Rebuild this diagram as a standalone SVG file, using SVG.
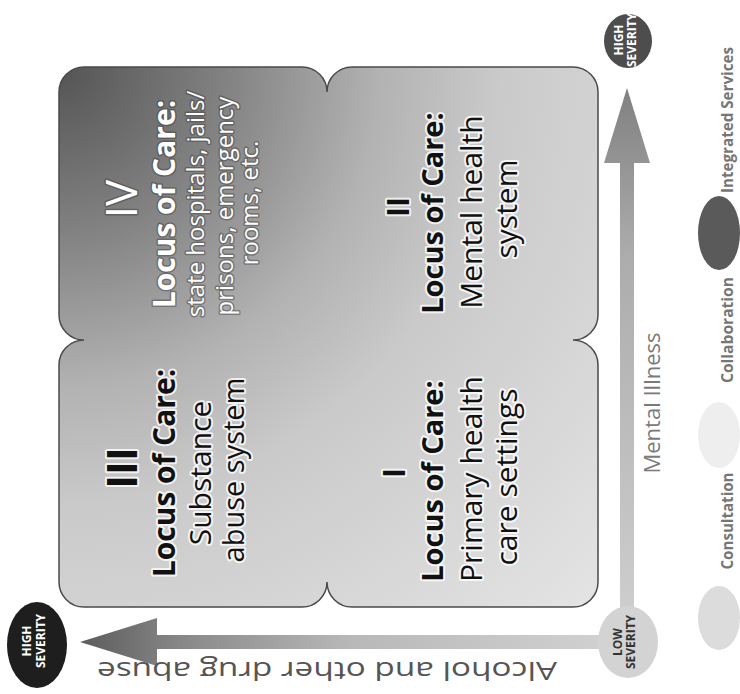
<svg xmlns="http://www.w3.org/2000/svg" width="740" height="694" viewBox="0 0 740 694">
  <defs>
    <radialGradient id="quadFill" gradientUnits="userSpaceOnUse" cx="59" cy="67" r="760" fx="59" fy="67">
      <stop offset="0" stop-color="#545454"/>
      <stop offset="0.22" stop-color="#828282"/>
      <stop offset="0.42" stop-color="#b2b2b2"/>
      <stop offset="0.58" stop-color="#cacaca"/>
      <stop offset="1" stop-color="#e4e4e4"/>
    </radialGradient>
    <linearGradient id="hArrow" gradientUnits="userSpaceOnUse" x1="80" y1="0" x2="620" y2="0">
      <stop offset="0" stop-color="#5c5c5c"/>
      <stop offset="0.2" stop-color="#8a8a8a"/>
      <stop offset="0.5" stop-color="#b8b8b8"/>
      <stop offset="1" stop-color="#d2d2d2"/>
    </linearGradient>
    <linearGradient id="vArrow" gradientUnits="userSpaceOnUse" x1="0" y1="88" x2="0" y2="640">
      <stop offset="0" stop-color="#808080"/>
      <stop offset="0.3" stop-color="#acacac"/>
      <stop offset="1" stop-color="#d0d0d0"/>
    </linearGradient>
  </defs>
  <style>
    text { font-family: "Open Sans", "Noto Sans", "Liberation Sans", sans-serif; }
    .lt { fill: #ffffff; stroke: #3a3a3a; stroke-width: 3; stroke-opacity: 0.45; paint-order: stroke; stroke-linejoin: round; text-anchor: middle; }
    .dk { fill: #111111; stroke: #ffffff; stroke-width: 4; stroke-opacity: 0.8; paint-order: stroke; stroke-linejoin: round; text-anchor: middle; }
    .b { font-weight: bold; }
    .sev { font-weight: bold; text-anchor: middle; font-size: 12px; }
    .leg { font-weight: bold; fill: #767676; font-size: 16px; text-anchor: middle; }
  </style>

  <rect width="740" height="694" fill="#ffffff"/>

  <!-- quadrant block -->
  <g id="quadrants">
    <path d="M84,67 H302 A25,25 0 0 1 327,92 A25,25 0 0 1 352,67 H573 A25,25 0 0 1 598,92 V315 A25,25 0 0 1 573,340 A25,25 0 0 1 598,365 V582 A25,25 0 0 1 573,607 H352 A25,25 0 0 1 327,582 A25,25 0 0 1 302,607 H84 A25,25 0 0 1 59,582 V365 A25,25 0 0 1 84,340 A25,25 0 0 1 59,315 V92 A25,25 0 0 1 84,67 Z" fill="url(#quadFill)" stroke="#4a4a4a" stroke-width="1.5"/>
  </g>

  <g id="quadrant-IV">
    <text class="lt" font-size="44" transform="translate(137,199) rotate(-90)">IV</text>
    <text class="lt b" font-size="30" transform="translate(175,204) rotate(-90)">Locus of Care:</text>
    <text class="lt" font-size="24" transform="translate(204,204) rotate(-90)">state hospitals, jails/</text>
    <text class="lt" font-size="24" transform="translate(233,206) rotate(-90)">prisons, emergency</text>
    <text class="lt" font-size="24" transform="translate(258,203) rotate(-90)">rooms, etc.</text>
  </g>

  <g id="quadrant-III">
    <text class="dk b" font-size="42" transform="translate(137,468) rotate(-90)">III</text>
    <text class="dk b" font-size="30" transform="translate(175,473) rotate(-90)">Locus of Care:</text>
    <text class="dk" font-size="30" transform="translate(211,473) rotate(-90)">Substance</text>
    <text class="dk" font-size="29" transform="translate(244,470) rotate(-90)">abuse system</text>
  </g>

  <g id="quadrant-II">
    <text class="dk b" font-size="30" transform="translate(409,207) rotate(-90)">II</text>
    <text class="dk b" font-size="29" transform="translate(443,213) rotate(-90)">Locus of Care:</text>
    <text class="dk" font-size="30" transform="translate(482,212) rotate(-90)">Mental health</text>
    <text class="dk" font-size="30" transform="translate(517,209) rotate(-90)">system</text>
  </g>

  <g id="quadrant-I">
    <text class="dk b" font-size="30" transform="translate(405,473) rotate(-90)">I</text>
    <text class="dk b" font-size="29" transform="translate(443,481) rotate(-90)">Locus of Care:</text>
    <text class="dk" font-size="30" transform="translate(482,479) rotate(-90)">Primary health</text>
    <text class="dk" font-size="30" transform="translate(517,477) rotate(-90)">care settings</text>
  </g>

  <!-- axes (connectors) -->
  <g id="connectors">
    <path d="M80,642 L157,618 L157,635 L612,635 L612,649 L157,649 L157,666 Z" fill="url(#hArrow)"/>
    <path d="M627,88 L650,163 L634,163 L634,615 L620,615 L620,163 L604,163 Z" fill="url(#vArrow)"/>
  </g>

  <g id="axis-labels">
    <text font-size="26" fill="#555555" text-anchor="middle" textLength="460" lengthAdjust="spacingAndGlyphs" transform="translate(327,662) rotate(180)">Alcohol and other drug abuse</text>
    <text font-size="22" fill="#7a7a7a" text-anchor="middle" transform="translate(660,403) rotate(-90)">Mental Illness</text>
  </g>

  <g id="low-severity">
    <ellipse cx="628" cy="642" rx="30" ry="36" fill="#d3d3d3"/>
    <text class="sev" fill="#333333" transform="translate(622,642) rotate(-90)">LOW</text>
    <text class="sev" fill="#333333" transform="translate(635,642) rotate(-90)">SEVERITY</text>
  </g>

  <g id="high-severity-mi">
    <ellipse cx="628" cy="41" rx="24" ry="27" fill="#4d4d4d"/>
    <text class="sev" fill="#ffffff" font-size="11" transform="translate(623,40) rotate(-90)">HIGH</text>
    <text class="sev" fill="#ffffff" font-size="11" transform="translate(636,40) rotate(-90)">SEVERITY</text>
  </g>

  <g id="high-severity-aod">
    <ellipse cx="37" cy="645" rx="30" ry="43" fill="#1e1e1e"/>
    <text class="sev" fill="#ffffff" font-size="13" transform="translate(31,641) rotate(-90)">HIGH</text>
    <text class="sev" fill="#ffffff" font-size="13" transform="translate(45,641) rotate(-90)">SEVERITY</text>
  </g>

  <!-- legend -->
  <g id="legend-consultation">
    <ellipse cx="719" cy="618" rx="21" ry="32" fill="#dcdcdc"/>
    <text class="leg" textLength="97" lengthAdjust="spacingAndGlyphs" transform="translate(733,521) rotate(-90)">Consultation</text>
  </g>
  <g id="legend-collaboration">
    <ellipse cx="719" cy="435" rx="21" ry="33" fill="#eeeeee"/>
    <text class="leg" textLength="106" lengthAdjust="spacingAndGlyphs" transform="translate(733,330) rotate(-90)">Collaboration</text>
  </g>
  <g id="legend-integrated">
    <ellipse cx="719" cy="233" rx="21" ry="37" fill="#5a5a5a"/>
    <text class="leg" textLength="146" lengthAdjust="spacingAndGlyphs" transform="translate(733,120) rotate(-90)">Integrated Services</text>
  </g>
</svg>
